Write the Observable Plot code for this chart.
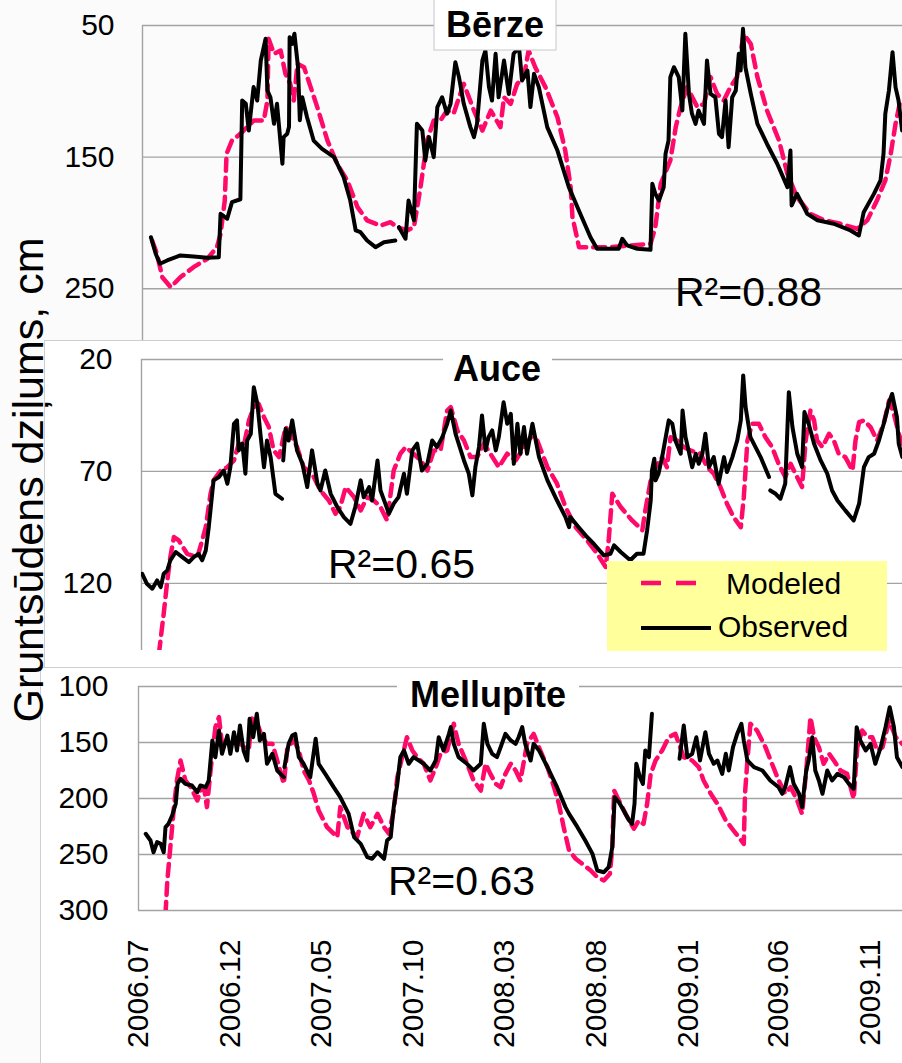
<!DOCTYPE html>
<html><head><meta charset="utf-8">
<script src="https://cdn.jsdelivr.net/npm/d3@7"></script>
<script src="https://cdn.jsdelivr.net/npm/@observablehq/plot@0.6"></script>
<style>
body{margin:0;background:#fff;}
#chart{position:relative;width:902px;height:1063px;overflow:hidden;background:#fbfbfb;font-family:"Liberation Sans",Arial,sans-serif;}
.frame{position:absolute;background:#fff;border-top:1px solid #cfcfcf;border-left:1px solid #cfcfcf;box-sizing:border-box;}
</style></head>
<body><div id="chart"></div>
<script>
// ---- data (day offsets from START, depth in cm) ----
const START = "2006-07-01";
const xTickDates = ["2006-07-01","2006-12-01","2007-05-01","2007-10-01","2008-03-01","2008-08-01","2009-01-01","2009-06-01","2009-11-01"];
const berzeTicks = [50,150,250];
const auceTicks = [20,70,120];
const mellupiteTicks = [100,150,200,250,300];
const seriesNames = ["Modeled","Observed"];
const r2Labels = ["R²=0.88","R²=0.65","R²=0.63"];
const stationNames = ["Bērze","Auce","Mellupīte"];

const berzeObserved = [[14,210.8],[22,223.4],[29,231],[41,228.5],[63,224.7],[85,225.5],[108,226.5],[127,226],[130,193],[141,196.8],[149,184.2],[163,182],[166,107],[172,109.5],[177,129.8],[185,96.8],[191,107],[197,76.6],[205,60.1],[208,99.4],[213,104.5],[219,124.7],[224,109.5],[233,155],[235,134.8],[241,132.3],[244,127],[245,58.9],[249,64],[253,56.3],[259,81.7],[262,122],[266,104.5],[274,119.7],[285,137.4],[299,143.7],[319,150],[335,165.2],[346,183],[355,205.7],[363,207],[374,213.3],[388,218.4],[402,214.6],[421,213.3],[424,null],[427,203.2],[438,212],[443,183],[452,198],[457,124.7],[466,129.8],[471,152.5],[477,134.8],[485,150],[491,112],[499,104.5],[507,117],[513,109.5],[521,77.9],[527,89.2],[535,109.5],[546,127.2],[552,134.8],[557,124.7],[566,76.6],[571,69],[577,96.8],[582,107],[588,71.5],[593,104.5],[602,76.6],[610,102],[618,71.5],[627,66.5],[632,91.8],[641,84.2],[646,112],[652,86.7],[660,96.8],[674,127.2],[691,145],[710,172.8],[729,193],[746,210.8],[757,219.6],[779,219.6],[793,219.6],[799,212],[807,217],[824,219.6],[846,220.4],[849,170.3],[854,177.9],[860,183],[868,172.8],[871,147.5],[876,137.4],[879,89.2],[885,81.7],[893,89.2],[899,114.6],[904,56.3],[910,102],[915,117],[921,124.7],[926,114.6],[935,124.7],[940,76.6],[946,102],[954,104.5],[960,132.3],[965,134.8],[971,107],[976,142.4],[982,104.5],[988,99.4],[993,71.5],[996,84.2],[1000,52.5],[1004,81.7],[1013,102],[1024,124.7],[1040,140],[1057,155],[1074,172.8],[1079,145],[1081,186.7],[1090,177.9],[1107,193],[1124,198],[1151,200.6],[1179,205.7],[1193,209.5],[1201,191.8],[1218,177.9],[1229,167.7],[1234,147.5],[1237,117],[1243,99.4],[1249,70.3],[1254,96.8],[1259,107],[1265,129.8]];

const berzeModeled = [[16,213.3],[24,223.4],[33,241.2],[47,248.8],[63,241.2],[85,233.6],[108,227.2],[124,218.4],[130,208.2],[137,183],[140,147.5],[149,137.4],[163,132.3],[174,127.2],[185,122.2],[202,122.2],[208,107],[210,60.1],[219,71.5],[230,69],[238,86.7],[246,94.3],[252,107],[258,79.1],[269,81.7],[280,96.8],[291,112],[308,137.4],[324,155],[341,167.7],[358,188],[374,198],[396,202],[413,199.4],[424,203.2],[441,205.7],[452,203.2],[463,172.8],[474,137.4],[485,122.2],[496,122.2],[507,114.6],[518,117],[535,94.3],[552,114.6],[566,129.8],[580,114.6],[596,127.2],[602,104.5],[613,109.5],[624,94.3],[635,89.2],[643,69],[654,81.7],[671,96.8],[691,119.7],[704,145],[713,172.8],[716,195.6],[727,218.4],[746,218.4],[779,218.4],[813,217.1],[846,215.9],[854,203.2],[863,170.3],[879,152.5],[888,127.2],[896,112],[907,96.8],[924,112],[935,109.5],[946,89.2],[957,102],[968,107],[979,96.8],[990,89.2],[1001,56.3],[1013,64],[1024,89.2],[1040,114.6],[1060,137.4],[1074,162.7],[1090,180.4],[1112,193],[1135,198],[1162,200.6],[1190,204.4],[1207,198],[1223,183],[1237,167.7],[1246,147.5],[1254,124.7],[1262,107]];

const auceObserved = [[1,115.7],[9,120.2],[18,122.4],[26,118.7],[32,121.7],[37,115.7],[43,114.2],[48,109.7],[57,106],[68,108.3],[79,110.5],[87,108.3],[95,106.8],[101,109.7],[107,105.3],[112,94.9],[120,74],[129,72.5],[137,69.6],[143,75.5],[148,68.1],[154,48.7],[159,47.2],[162,60.6],[168,57.6],[173,71],[176,56.2],[182,53.2],[187,32.4],[193,39.8],[198,53.2],[204,68.1],[209,56.2],[215,63.6],[223,80],[234,82.2],[235,null],[236,65.1],[240,50.9],[245,56.2],[251,47.2],[259,60.6],[268,66.6],[276,77],[284,60.6],[293,75.5],[298,78.5],[306,69.6],[315,80],[326,85.9],[337,90.4],[348,93.4],[356,85.9],[365,74],[370,81.5],[379,77],[384,83],[393,65.1],[398,78.5],[406,84.4],[412,88.9],[420,84.4],[428,81.5],[437,71],[442,80],[451,60.6],[459,57.6],[467,69.6],[476,66.6],[484,56.2],[492,59.1],[501,54.7],[509,48.7],[515,42.8],[523,53.2],[537,65.1],[545,71],[551,80.7],[556,68.1],[562,59.1],[567,45],[573,60.6],[578,54.7],[584,51.7],[590,60.6],[595,54.7],[603,39.1],[609,48.7],[615,44.3],[620,66.6],[626,48.7],[631,62.1],[637,50.2],[642,62.1],[651,48.7],[662,63.6],[676,74],[692,83],[706,90.4],[712,94.9],[714,90.4],[728,94.9],[742,99.3],[753,102.3],[770,107.5],[781,106.8],[787,103],[798,106],[814,109.7],[825,106.8],[836,106.8],[842,96.3],[848,83],[850,69.6],[854,64.3],[856,74],[861,71],[867,63.6],[873,54.7],[878,47.2],[884,48.7],[889,56.2],[898,62.1],[901,42.8],[906,54.7],[911,60.6],[917,68.1],[923,62.1],[928,66.6],[934,62.1],[939,53.2],[945,68.1],[953,63.6],[961,75.5],[970,63.6],[975,70.3],[984,63.6],[992,56.2],[998,47.2],[1002,27.1],[1006,41.3],[1014,54.7],[1031,63.6],[1045,72.5],[1046,null],[1047,78.5],[1056,80],[1064,82.2],[1072,75.5],[1078,34.6],[1084,50.2],[1092,62.1],[1100,68.1],[1104,43.5],[1111,48.7],[1120,57.6],[1131,65.1],[1142,71],[1150,78.5],[1159,83],[1172,87.4],[1186,91.9],[1195,84.4],[1203,68.1],[1211,63.6],[1220,62.1],[1228,56.2],[1236,48.7],[1245,39.1],[1250,35.4],[1258,45.8],[1261,57.6],[1267,63.6]];

const auceModeled = [[29,151.4],[37,133.5],[43,118.7],[48,108.3],[54,99.3],[62,100.8],[76,106.8],[93,108.3],[101,100.8],[107,94.9],[115,80],[120,74],[132,69.6],[143,68.1],[154,65.1],[162,57.6],[170,59.1],[179,47.2],[187,41.3],[195,39.8],[204,45.8],[212,50.2],[220,60.6],[229,63.6],[240,50.2],[248,53.2],[259,59.1],[270,68.1],[284,71],[298,78.5],[312,83],[323,88.9],[331,85.9],[340,77],[354,81.5],[365,87.4],[376,81.5],[387,83],[398,85.9],[409,91.9],[420,69.6],[431,62.1],[440,59.1],[453,62.1],[465,65.1],[476,69.6],[487,60.6],[498,60.6],[509,42.8],[515,41.3],[526,51.7],[537,56.2],[548,63.6],[559,63.6],[570,57.6],[581,62.1],[595,68.1],[609,62.1],[623,65.1],[637,59.1],[648,54.7],[659,56.2],[676,68.1],[692,75.5],[706,85.9],[723,94.9],[742,100.8],[759,106.8],[773,112.7],[778,100.8],[784,80],[798,85.9],[817,91.9],[834,96.3],[839,87.4],[848,74],[856,68.1],[867,63.6],[875,68.1],[881,54.7],[892,56.2],[903,59.1],[914,60.6],[931,62.1],[942,68.1],[953,71],[964,77],[975,84.4],[986,90.4],[998,94.9],[1003,81.5],[1009,56.2],[1017,48.7],[1028,48.7],[1039,54.7],[1050,59.1],[1061,66.6],[1072,72.5],[1081,66.6],[1089,71],[1100,77],[1106,56.2],[1114,42.8],[1120,47.2],[1125,56.2],[1134,59.1],[1145,53.2],[1153,56.2],[1161,62.1],[1172,63.6],[1184,69.6],[1189,56.2],[1195,48],[1203,47.2],[1214,50.2],[1225,56.2],[1236,48.7],[1245,38.3],[1253,44.3],[1261,53.2],[1267,57.6]];

const mellupiteObserved = [[12,231.5],[20,237.5],[25,248],[31,239],[37,240.5],[42,248],[45,225.6],[50,222.6],[56,215.2],[62,204.7],[65,186.9],[70,182.4],[78,186.9],[89,188.4],[98,194.4],[103,188.4],[112,189.9],[117,183.9],[123,148.2],[128,163.1],[134,139.3],[139,160.1],[148,143.8],[153,160.1],[159,140.8],[164,157.1],[169,134.8],[175,157.1],[181,166.1],[185,128.8],[191,145.3],[197,124.4],[202,148.2],[209,142.3],[214,169],[223,160.1],[231,175],[242,181],[242,null],[243,172],[250,151.2],[256,143.8],[261,142.3],[267,163.1],[275,169],[286,181],[295,146.7],[300,169],[311,178],[325,189.9],[336,198.8],[350,213.7],[359,234.5],[370,240.5],[381,252.4],[389,253.8],[398,248],[409,253.8],[414,237.5],[420,234.5],[425,207.7],[431,186.9],[436,163.1],[442,157.1],[450,169],[458,163.1],[467,166.1],[475,169],[486,175],[495,166.1],[500,145.3],[508,157.1],[517,142.3],[520,136.3],[525,151.2],[533,163.1],[547,169],[558,175],[570,169],[575,133.3],[581,151.2],[589,160.1],[597,163.1],[603,154.2],[611,142.3],[620,148.2],[628,151.2],[633,145.3],[639,136.3],[644,151.2],[653,166.1],[658,151.2],[667,157.1],[681,172],[697,189.9],[711,207.7],[717,213.7],[731,225.6],[744,237.5],[756,249.4],[764,264.3],[775,265.8],[783,261.3],[789,243.5],[793,198.8],[800,203.3],[808,210.7],[817,219.6],[822,222.6],[826,204.7],[829,169],[835,181],[840,186.9],[844,157.1],[850,163.1],[855,124.4],[878,null],[901,164.6],[908,134.8],[914,163.1],[922,160.1],[929,145.3],[935,166.1],[944,140.8],[950,160.1],[958,169],[964,166.1],[972,178],[978,160.1],[983,175],[990,154.2],[997,142.3],[1004,133.3],[1008,148.2],[1014,166.1],[1025,172],[1039,175],[1052,183.9],[1066,189.9],[1072,195.8],[1077,189.9],[1085,172],[1091,186.9],[1100,195.8],[1105,207.7],[1112,175],[1116,166.1],[1122,145.3],[1127,175],[1133,183.9],[1139,195.8],[1147,175],[1155,183.9],[1164,178],[1175,181],[1183,186.9],[1191,191.4],[1196,136.3],[1202,148.2],[1211,157.1],[1219,151.2],[1227,169],[1236,154.2],[1244,136.3],[1251,118.5],[1258,136.3],[1263,163.1],[1272,172]];

const mellupiteModeled = [[45,303],[48,273.2],[53,243.5],[59,207.7],[64,183.9],[70,166.1],[78,183.9],[87,189.9],[98,201.8],[103,192.9],[109,189.9],[114,207.7],[120,175],[128,136.3],[134,127.4],[139,151.2],[153,151.2],[164,148.2],[175,154.2],[184,154.2],[189,127.4],[198,133.3],[206,145.3],[214,151.2],[223,151.2],[231,166.1],[242,186.9],[248,154.2],[259,148.2],[267,157.1],[275,175],[284,183.9],[292,195.8],[300,210.7],[314,225.6],[331,234.5],[336,207.7],[348,225.6],[364,234.5],[375,213.7],[386,225.6],[398,213.7],[409,225.6],[417,231.5],[425,210.7],[431,181],[439,163.1],[447,145.3],[456,157.1],[464,163.1],[475,169],[486,183.9],[495,172],[503,160.1],[514,157.1],[525,133.3],[533,151.2],[545,166.1],[558,183.9],[570,192.9],[578,169],[586,178],[595,186.9],[603,189.9],[611,178],[620,169],[628,175],[636,183.9],[647,151.2],[658,142.3],[669,157.1],[681,172],[692,189.9],[700,204.7],[708,225.6],[717,246.4],[728,253.8],[739,258.3],[753,264.3],[764,270.3],[775,273.2],[785,267.2],[789,243.5],[792,192.9],[800,201.8],[811,213.7],[825,227],[833,219.6],[841,222.6],[847,204.7],[853,178],[861,166.1],[872,157.1],[883,145.3],[894,142.3],[908,163.1],[922,166.1],[933,172],[941,183.9],[953,195.8],[964,204.7],[978,219.6],[991,228.6],[1008,240.5],[1010,195.8],[1014,166.1],[1019,133.3],[1030,139.3],[1044,154.2],[1055,169],[1066,183.9],[1077,195.8],[1086,189.9],[1097,201.8],[1105,213.7],[1112,175],[1119,127.4],[1125,145.3],[1133,154.2],[1141,169],[1150,160.1],[1158,166.1],[1169,175],[1180,178],[1191,200.3],[1197,154.2],[1205,139.3],[1214,145.3],[1222,145.3],[1230,157.1],[1239,154.2],[1250,130.4],[1261,145.3],[1272,151.2]];

// ---- rendering ----
const chart = document.getElementById("chart");
const start = new Date(START + "T00:00:00Z");
const PX_PER_DAY = 0.6005;
const GRID = "#a3a3a3";
const PINK = "#ff0a6a";
const FONT = "'Liberation Sans', Arial, sans-serif";
const toRows = arr => arr.map(([d, v]) => ({date: d3.utcDay.offset(start, d), depth: v}));

function addFrame(left, top) {
  const f = document.createElement("div");
  f.className = "frame";
  f.style.left = left + "px"; f.style.top = top + "px";
  f.style.width = (902 - left + 2) + "px"; f.style.height = (1063 - top + 2) + "px";
  chart.append(f);
}

function panel(o) {
  const end = new Date(+start + (902 - o.x0) / PX_PER_DAY * 864e5);
  const xOpt = o.xAxis
    ? {type: "utc", domain: [start, end], range: [o.x0, 902], ticks: xTickDates.map(s => new Date(s + "T00:00:00Z")),
       tickFormat: d3.utcFormat("%Y.%m"), tickRotate: -90, tickSize: 0, tickPadding: 29, label: null}
    : {type: "utc", domain: [start, end], range: [o.x0, 902], axis: null};
  const svg = Plot.plot({
    width: 902, height: o.height,
    marginLeft: o.x0, marginRight: 0, marginTop: o.marginTop, marginBottom: o.marginBottom,
    style: {fontFamily: FONT, fontSize: "30px", color: "#000", background: "transparent"},
    x: xOpt,
    y: {domain: o.yDomain, range: o.yRange, ticks: o.yTicks, tickSize: 0, tickPadding: o.tickPadding, tickFormat: d => String(d), label: null},
    marks: [
      Plot.ruleY(o.yTicks, {stroke: GRID, strokeWidth: 1.4}),
      Plot.ruleX([start], {stroke: GRID, strokeWidth: 1.4}),
      Plot.line(toRows(o.mod), {x: "date", y: "depth", stroke: PINK, strokeWidth: 4.5, strokeDasharray: "12,7", clip: true}),
      Plot.line(toRows(o.obs), {x: "date", y: "depth", stroke: "#000", strokeWidth: 4, strokeLinejoin: "round", clip: true})
    ]
  });
  svg.style.position = "absolute";
  svg.style.left = "0px";
  svg.style.top = o.top + "px";
  chart.append(svg);
}

// Bērze
panel({obs: berzeObserved, mod: berzeModeled, x0: 142, top: 0, height: 340, marginTop: 25, marginBottom: 0,
       yDomain: [50, 300], yRange: [25, 354.1], yTicks: berzeTicks, tickPadding: 28});
addFrame(44, 340);
// Auce
panel({obs: auceObserved, mod: auceModeled, x0: 141, top: 340, height: 327, marginTop: 19, marginBottom: 17,
       yDomain: [20, 150], yRange: [19, 310], yTicks: auceTicks, tickPadding: 29});
addFrame(40, 667);
// Mellupīte
panel({obs: mellupiteObserved, mod: mellupiteModeled, x0: 138, top: 667, height: 396, marginTop: 19, marginBottom: 153,
       yDomain: [100, 300], yRange: [19, 243], yTicks: mellupiteTicks, tickPadding: 30, xAxis: true});

// overlay: titles, R², legend, y label
const ov = d3.create("svg").attr("width", 902).attr("height", 1063)
  .style("position", "absolute").style("left", "0px").style("top", "0px")
  .attr("font-family", FONT);
ov.append("rect").attr("x", 434).attr("y", -1).attr("width", 122).attr("height", 51).attr("fill", "#fff").attr("stroke", "#c8c8c8");
ov.append("rect").attr("x", 443).attr("y", 346).attr("width", 109).attr("height", 40).attr("fill", "#fff");
ov.append("rect").attr("x", 397).attr("y", 675).attr("width", 182).attr("height", 40).attr("fill", "#fff");
const titles = [[495, 37], [497, 381], [488, 707]];
stationNames.forEach((n, i) => ov.append("text").attr("x", titles[i][0]).attr("y", titles[i][1])
  .attr("text-anchor", "middle").attr("font-size", 36).attr("font-weight", "bold").text(n));
const r2Pos = [[675, 306], [328, 578], [388, 895]];
r2Labels.forEach((t, i) => ov.append("text").attr("x", r2Pos[i][0]).attr("y", r2Pos[i][1]).attr("font-size", 41).text(t));
// legend
ov.append("rect").attr("x", 607).attr("y", 561).attr("width", 280).attr("height", 90).attr("fill", "#ffff9c");
ov.append("line").attr("x1", 641).attr("x2", 697).attr("y1", 583).attr("y2", 583).attr("stroke", PINK).attr("stroke-width", 4.5).attr("stroke-dasharray", "20,15");
ov.append("text").attr("x", 726).attr("y", 594).attr("font-size", 30).text(seriesNames[0]);
ov.append("line").attr("x1", 641).attr("x2", 711).attr("y1", 628).attr("y2", 628).attr("stroke", "#000").attr("stroke-width", 4);
ov.append("text").attr("x", 718).attr("y", 637).attr("font-size", 30).text(seriesNames[1]);
// y label
ov.append("text").attr("transform", "translate(43,480) rotate(-90)").attr("text-anchor", "middle").attr("font-size", 43)
  .text("Gruntsūdens dziļums, cm");
chart.append(ov.node());
</script>
</body></html>
